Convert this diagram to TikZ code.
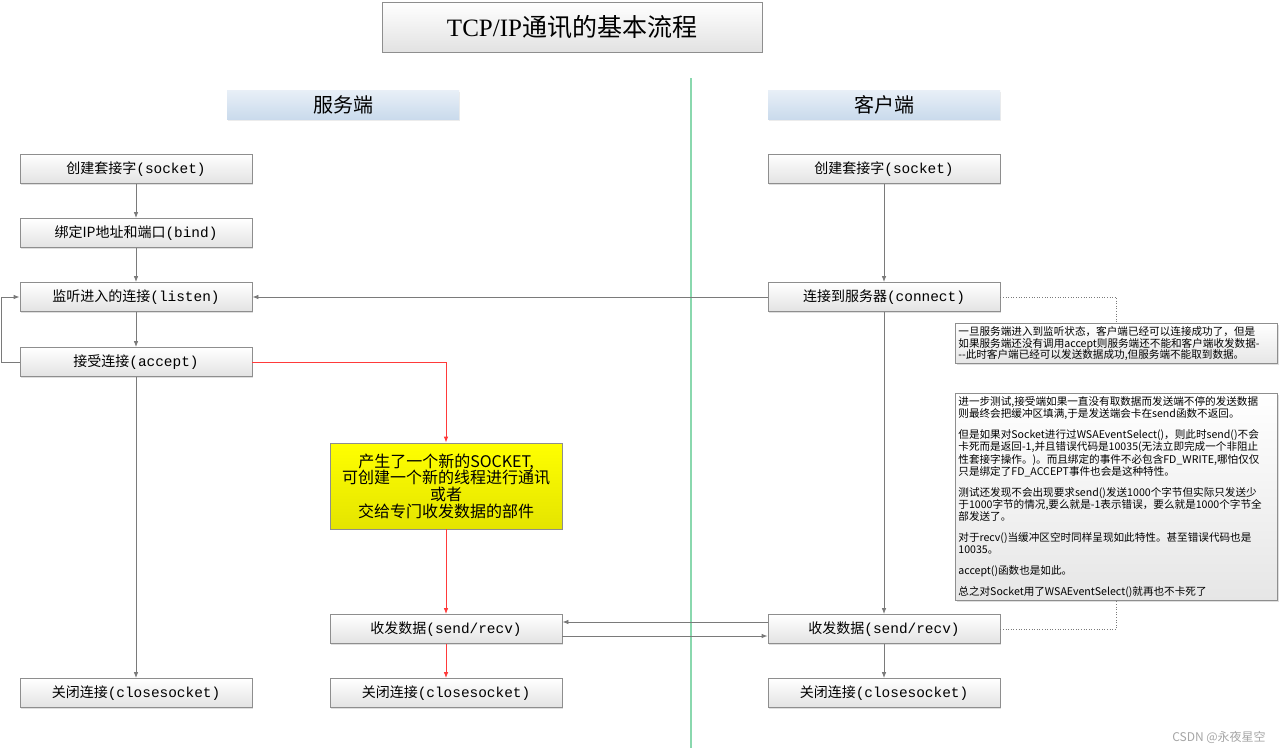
\documentclass[tikz,border=0pt]{standalone}
\usepackage{fontspec}
\setmainfont{Noto Sans CJK SC}
\newfontfamily\lat[Scale=1.03]{Liberation Mono}
\newfontfamily\ser{Liberation Serif}
\usetikzlibrary{arrows.meta,shadows}
\definecolor{edge}{HTML}{8E8E8E}
\definecolor{wire}{HTML}{7A7A7A}
\definecolor{boxbot}{HTML}{E2E2E2}
\definecolor{notebot}{HTML}{E6E6E6}
\definecolor{redwire}{HTML}{FF3A3A}
\definecolor{mint}{HTML}{8AD8AE}
\definecolor{headtop}{HTML}{E8EFF7}
\definecolor{headbot}{HTML}{C9DAEC}
\definecolor{yeltop}{HTML}{FFFF00}
\definecolor{yelbot}{HTML}{E4E400}

\begin{document}
\begin{tikzpicture}[x=1pt,y=-1pt,line width=0.8pt,
    box/.style={draw=edge,top color=white,bottom color=boxbot,minimum width=232pt,
        minimum height=29pt,inner sep=0pt,font=\fontsize{14}{16}\selectfont,
        drop shadow={shadow xshift=1.2pt,shadow yshift=-1.2pt,opacity=.25}},
    hdr/.style={top color=headtop,bottom color=headbot,minimum width=232pt,
        minimum height=29pt,inner sep=0pt,font=\fontsize{20}{22}\selectfont,
        drop shadow={shadow xshift=1pt,shadow yshift=-1pt,opacity=.15}},
    note/.style={draw=edge,top color=white,bottom color=notebot,anchor=north west,
        text width=316pt,inner sep=3pt,align=left,
        drop shadow={shadow xshift=1.2pt,shadow yshift=-1.2pt,opacity=.25}},
    flow/.style={draw=wire,-{Latex[length=6pt,width=4.5pt]}},
    hot/.style={draw=redwire,-{Latex[length=6pt,width=4.5pt]}},
    dots/.style={draw=wire,dotted,line width=0.6pt}]%
    \path[fill=white,use as bounding box] (0,0) rectangle (1280,750);
    % title and the two sides
    \node[box,minimum width=380pt,minimum height=50pt,font=\fontsize{25}{28}\selectfont] (title) at (572,27) {{\ser TCP/IP}通讯的基本流程};
    \coordinate (top) at (691,78);
    \coordinate (bot) at (691,748);
    \draw[mint,line width=1.5pt] (top) -- (bot);
    \node[hdr] (hs) at (343,105) {服务端};
    \node[hdr] (hc) at (884,105) {客户端};
    % server
    \node[box] (ss) at (136,169) {创建套接字{\lat(socket)}};
    \node[box] (sb) at (136,233) {绑定IP地址和端口{\lat(bind)}};
    \node[box] (sl) at (136,297) {监听进入的连接{\lat(listen)}};
    \node[box] (sa) at (136,362) {接受连接{\lat(accept)}};
    \node[box] (sx) at (136,693) {关闭连接{\lat(closesocket)}};
    % new socket
    \node[box,top color=yeltop,bottom color=yelbot,minimum height=86pt,align=center,
        font=\fontsize{16}{16.7}\selectfont] (my) at (446,486)
        {产生了一个新的SOCKET,\\可创建一个新的线程进行通讯\\或者\\交给专门收发数据的部件};
    \node[box] (mr) at (446,629) {收发数据{\lat(send/recv)}};
    \node[box] (mx) at (446,693) {关闭连接{\lat(closesocket)}};
    % client
    \node[box] (cs) at (884,169) {创建套接字{\lat(socket)}};
    \node[box] (cc) at (884,297) {连接到服务器{\lat(connect)}};
    \node[box] (cr) at (884,629) {收发数据{\lat(send/recv)}};
    \node[box] (cx) at (884,693) {关闭连接{\lat(closesocket)}};
    % notes
    \node[note,minimum height=39pt,font=\fontsize{10.6}{11.6}\selectfont] (n1) at (955,323)
        {一旦服务端进入到监听状态，客户端已经可以连接成功了，但是\\
         如果服务端还没有调用accept则服务端还不能和客户端收发数据-\\
         -{}-此时客户端已经可以发送数据成功,但服务端不能取到数据。};
    \node[note,minimum height=204pt,font=\fontsize{10.6}{12.3}\selectfont] (n2) at (955,393)
        {进一步测试,接受端如果一直没有取数据而发送端不停的发送数据\\
         则最终会把缓冲区填满,于是发送端会卡在send函数不返回。\\[8.5pt]
         但是如果对Socket进行过WSAEventSelect()，则此时send()不会\\
         卡死而是返回-1,并且错误代码是10035(无法立即完成一个非阻止\\
         性套接字操作。)。而且绑定的事件不必包含FD\_WRITE,哪怕仅仅\\
         只是绑定了FD\_ACCEPT事件也会是这种特性。\\[8.5pt]
         测试还发现不会出现要求send()发送1000个字节但实际只发送少\\
         于1000字节的情况,要么就是-1表示错误，要么就是1000个字节全\\
         部发送了。\\[8.5pt]
         对于recv()当缓冲区空时同样呈现如此特性。甚至错误代码也是\\
         10035。\\[8.5pt]
         accept()函数也是如此。\\[8.5pt]
         总之对Socket用了WSAEventSelect()就再也不卡死了};
    \node[text=gray!70,font=\fontsize{12}{14}\selectfont] (mark) at (1219,737) {CSDN @永夜星空};
    % connectors
    \foreach \a/\b in {ss/sb,sb/sl,sl/sa,sa/sx,cs/cc,cc/cr,cr/cx}
        \draw[flow] (\a) -- (\b);
    \draw[flow] (sa.west) -- ++(-18,0) |- (sl.west);
    \draw[flow] (cc) -- (sl);
    \draw[hot] (sa.east) -| (my.north);
    \foreach \a/\b in {my/mr,mr/mx}
        \draw[hot] (\a) -- (\b);
    \draw[flow] ([yshift=7pt]cr.west) -- ([yshift=7pt]mr.east);
    \draw[flow] ([yshift=-7pt]mr.east) -- ([yshift=-7pt]cr.west);
    \draw[dots] (cc.east) -| (n1.north);
    \draw[dots] (cr.east) -| (n2.south);
\end{tikzpicture}
\end{document}
